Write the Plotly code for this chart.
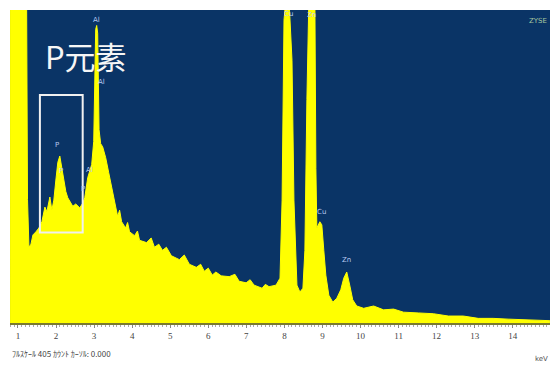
import plotly.graph_objects as go

# EDS spectrum (energy keV, counts; peaks above 405 are off-scale)
energy_kev = [0.791, 1.210, 1.250, 1.288, 1.340, 1.393, 1.471, 1.550, 1.628, 1.707, 1.759,
              1.838, 1.890, 1.942, 1.995, 2.047, 2.099, 2.152, 2.204, 2.257, 2.309, 2.361,
              2.440, 2.518, 2.623, 2.702, 2.754, 2.832, 2.885, 2.937, 2.990, 3.042, 3.068,
              3.094, 3.130, 3.173, 3.225, 3.304, 3.382, 3.461, 3.539, 3.618, 3.670, 3.723,
              3.827, 3.880, 3.932, 4.063, 4.140, 4.194, 4.377, 4.500, 4.586, 4.700, 4.796,
              4.900, 5.031, 5.241, 5.370, 5.503, 5.686, 5.800, 5.895, 6.000, 6.105, 6.200,
              6.340, 6.550, 6.700, 6.812, 6.995, 7.100, 7.204, 7.414, 7.500, 7.597, 7.780,
              7.885, 7.940, 7.990, 8.042, 8.120, 8.200, 8.251, 8.330, 8.408, 8.487, 8.539,
              8.592, 8.644, 8.723, 8.801, 8.828, 8.853, 8.932, 8.984, 9.036, 9.089, 9.168,
              9.272, 9.377, 9.482, 9.560, 9.639, 9.717, 9.796, 9.901, 10.084, 10.346,
              10.607, 10.869, 11.131, 11.524, 11.916, 12.309, 12.702, 13.094, 13.487,
              13.880, 14.272, 14.665, 14.979]
counts = [600, 600, 160, 98, 102, 114, 118, 123, 131, 150, 144,
          163, 146, 159, 185, 208, 216, 201, 185, 170, 162, 157,
          151, 154, 149, 155, 162, 188, 198, 205, 235, 380, 385,
          375, 250, 232, 228, 214, 195, 175, 153, 138, 146, 131,
          123, 130, 118, 113, 119, 107, 104, 110, 98, 102, 94,
          98, 87, 82, 88, 76, 72, 76, 67, 71, 62, 66,
          61, 60, 63, 54, 52, 56, 49, 45, 50, 47, 49,
          58, 159, 392, 420, 420, 340, 159, 49, 40, 45, 94,
          289, 420, 420, 420, 200, 123, 131, 127, 94, 62, 36,
          27, 32, 43, 58, 66, 49, 30, 22, 19, 22,
          17, 18, 14, 13, 12, 9, 9, 6, 6,
          5, 4, 3, 3]

tick_vals = list(range(1, 15))
tick_text = [str(v) for v in tick_vals]

peak_labels = ["Al", "Al", "P", "P", "Al", "P", "Cu", "Zn", "Cu", "Zn"]
peak_x = [3.07, 3.20, 2.02, 2.12, 2.87, 2.70, 8.10, 8.70, 8.97, 9.63]
peak_y = [392, 312, 230, 197, 198, 174, 400, 398, 143, 82]

box_x = [1.576, 2.70]
box_y = [117, 295]

fig = go.Figure()
fig.add_trace(go.Scatter(
    x=energy_kev, y=counts, mode="lines", fill="tozeroy",
    line=dict(color="#ffff00", width=1), fillcolor="#ffff00",
    hoverinfo="skip", showlegend=False))

for t, x, y in zip(peak_labels, peak_x, peak_y):
    fig.add_annotation(x=x, y=y, text=t, showarrow=False,
                       font=dict(size=7, color="#b8c8f0", family="DejaVu Sans"))

fig.add_shape(type="rect", x0=box_x[0], x1=box_x[1], y0=box_y[0], y1=box_y[1],
              line=dict(color="#f0f0f0", width=2))

fig.add_annotation(x=0.062, y=0.855, xref="paper", yref="paper", xanchor="left", yanchor="middle",
                   text="P元素", showarrow=False,
                   font=dict(size=31, color="#f6f6f6", family="Noto Sans CJK SC"))

fig.add_annotation(x=0.998, y=0.985, xref="paper", yref="paper", xanchor="right", yanchor="top",
                   text="ZYSE", showarrow=False,
                   font=dict(size=7, color="#a8c8a0", family="DejaVu Sans"))

fig.add_annotation(x=0.0, y=-0.075, xref="paper", yref="paper", xanchor="left", yanchor="top",
                   text="ﾌﾙｽｹｰﾙ 405 ｶｳﾝﾄ ｶｰｿﾙ: 0.000", showarrow=False,
                   font=dict(size=8, color="#444444", family="Noto Sans CJK JP"))
fig.add_annotation(x=1.0, y=-0.095, xref="paper", yref="paper", xanchor="right", yanchor="top",
                   text="keV", showarrow=False,
                   font=dict(size=7, color="#555555", family="DejaVu Sans"))

fig.update_layout(
    width=552, height=365,
    margin=dict(l=10, r=2, t=10, b=42),
    paper_bgcolor="#ffffff", plot_bgcolor="#0a3466",
    xaxis=dict(range=[0.79, 14.98], tickvals=tick_vals, ticktext=tick_text,
               showgrid=False, zeroline=False, showline=True, linecolor="#7a7a30", linewidth=2,
               ticks="outside", ticklen=3, tickcolor="#888888",
               minor=dict(dtick=0.1, ticks="outside", ticklen=2, tickcolor="#aaaaaa"),
               tickfont=dict(size=9, color="#444444", family="Liberation Sans Narrow")),
    yaxis=dict(range=[0, 405], visible=False, showgrid=False, zeroline=False),
)

fig.write_html("out.html")
